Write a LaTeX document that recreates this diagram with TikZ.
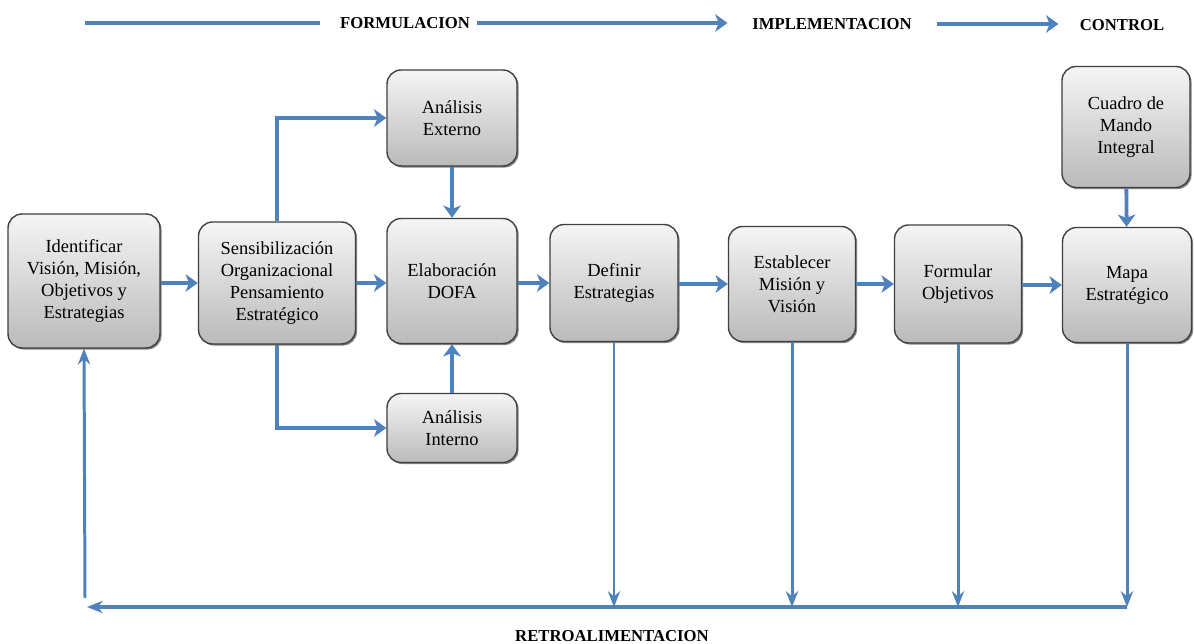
\documentclass[tikz,border=0pt]{standalone}
\usepackage{fontspec}
\setmainfont{Liberation Serif}
\usetikzlibrary{positioning,arrows.meta,calc,shadows}
\definecolor{flowblue}{HTML}{4F81BD}

\begin{document}
\begin{tikzpicture}[x=0.02cm,y=-0.02cm,
  paso/.style={rectangle, rounded corners=8pt, draw=black!75, line width=0.8pt,
    top color=white!96!black, bottom color=black!27,
    drop shadow={shadow xshift=0.9pt,shadow yshift=-0.9pt,fill=black!60,opacity=0.8},
    align=center, inner sep=2pt, font=\fontsize{10.5}{12.5}\selectfont},
  flujo/.style={draw=flowblue, line width=2.2pt, -{Stealth[length=7pt,width=10pt,inset=2pt]}},
  retro/.style={draw=flowblue, line width=1.7pt, -{Stealth[length=9pt,width=7pt,inset=3pt]}},
  etapa/.style={font=\fontsize{9.5}{11}\selectfont\bfseries, inner sep=2pt}]
\useasboundingbox (0,0) rectangle (1194,644);

% Stages on top
\node[etapa] (formul) at (405,23) {FORMULACION};
\node[etapa] (implem) at (832,24) {IMPLEMENTACION};
\node[etapa] (contr) at (1122,25) {CONTROL};
\coordinate (inicio) at (85,23);
\draw[draw=flowblue, line width=2.5pt, shorten >=9pt] (inicio) -- (formul.west);
\draw[flujo, line width=2.5pt, shorten <=2pt, shorten >=12pt] (formul.east) -- (formul.east -| implem.west);
\draw[flujo, line width=2.5pt, shorten <=12pt, shorten >=10pt] (implem.east) -- (implem.east -| contr.west);

% Process boxes
\node[paso, minimum width=3.04cm, minimum height=2.68cm] (ident) at (84,281) {Identificar\\Visión, Misión,\\Objetivos y\\Estrategias};
\node[paso, minimum width=3.14cm, minimum height=2.44cm] (sens) at (277,283) {Sensibilización\\Organizacional\\Pensamiento\\Estratégico};
\node[paso, minimum width=2.6cm, minimum height=1.92cm] (ext) at (452,118) {Análisis\\Externo};
\node[paso, minimum width=2.6cm, minimum height=2.5cm] (dofa) at (452,281) {Elaboración\\DOFA};
\node[paso, minimum width=2.6cm, minimum height=1.38cm] (int) at (452,428) {Análisis\\Interno};
\node[paso, minimum width=2.56cm, minimum height=2.34cm] (def) at (614,283) {Definir\\Estrategias};
\node[paso, minimum width=2.54cm, minimum height=2.3cm] (est) at (792,284) {Establecer\\Misión y\\Visión};
\node[paso, minimum width=2.54cm, minimum height=2.36cm] (form) at (958,284) {Formular\\Objetivos};
\node[paso, minimum width=2.56cm, minimum height=2.42cm] (cuadro) at (1126,127) {Cuadro de\\Mando\\Integral};
\node[paso, minimum width=2.58cm, minimum height=2.3cm] (mapa) at (1127,285) {Mapa\\Estratégico};

% Main flow
\draw[flujo] (ident.east |- sens.west) -- (sens.west);
\draw[flujo] (sens.north) |- (ext.west);
\draw[flujo] (sens.south) |- (int.west);
\draw[flujo] (sens.east) -- (sens.east -| dofa.west);
\draw[flujo] (ext) -- (dofa);
\draw[flujo] (int) -- (dofa);
\draw[flujo] (dofa.east |- def.west) -- (def.west);
\draw[flujo] (def.east |- est.west) -- (est.west);
\draw[flujo] (est.east |- form.west) -- (form.west);
\draw[flujo] (form.east |- mapa.west) -- (mapa.west);
\draw[flujo] (cuadro) -- (mapa);

% Feedback
\coordinate (retroy) at (0,607);
\coordinate (retrofin) at (87,607);
\coordinate (retroup) at (85,598);
\foreach \n in {def,est,form,mapa}
  \draw[retro] (\n.south) -- (\n.south |- retroy);
\draw[retro, line width=2.2pt] (mapa.south |- retroy) -- (retrofin);
\draw[retro] (retroup) -- (ident.south);
\node[etapa] (retrol) at (612,636) {RETROALIMENTACION};
\end{tikzpicture}
\end{document}
